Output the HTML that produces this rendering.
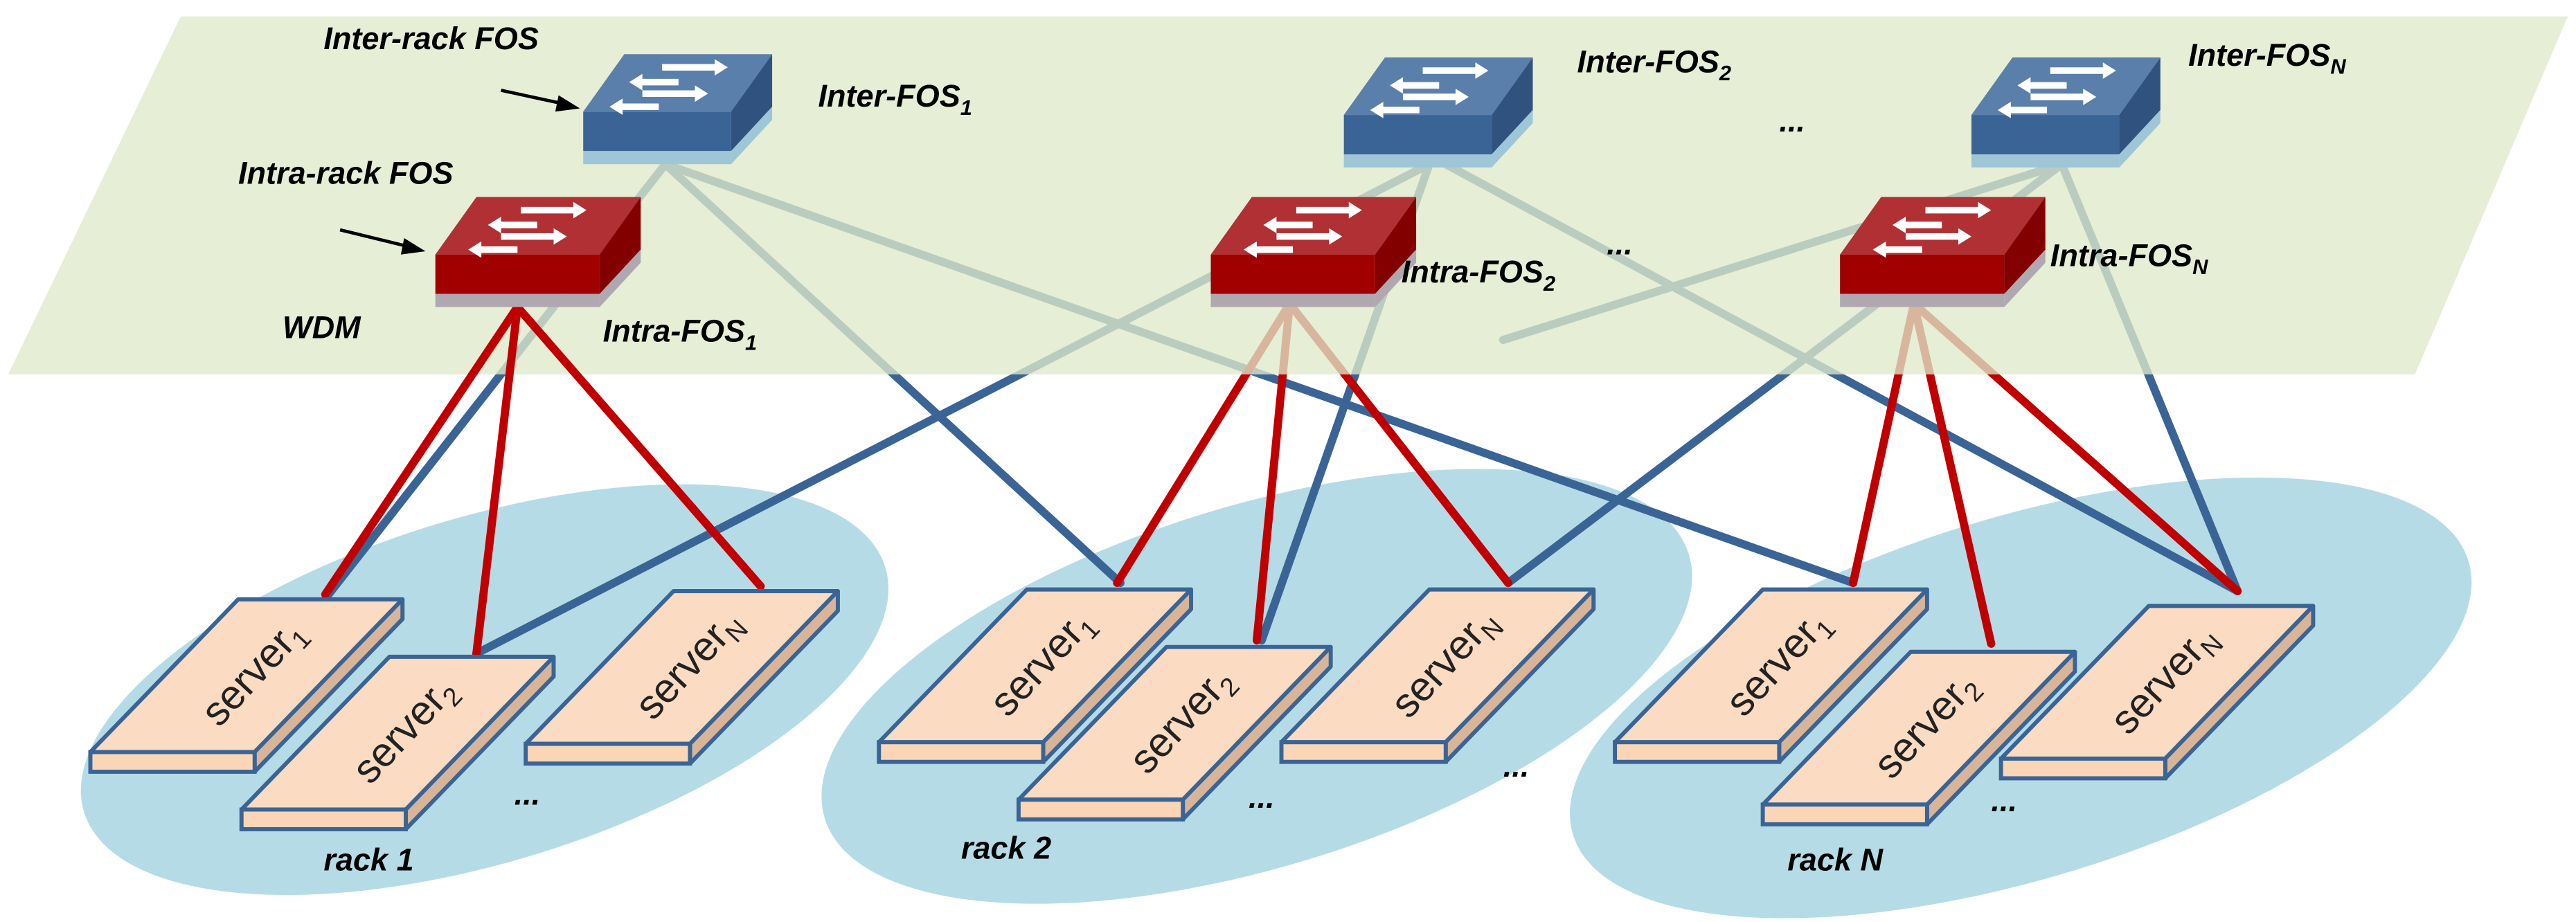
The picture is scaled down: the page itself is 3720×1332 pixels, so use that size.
<!DOCTYPE html>
<html><head><meta charset="utf-8"><style>
html,body{margin:0;padding:0;background:#fff;width:3720px;height:1332px;overflow:hidden;}
svg{display:block;position:absolute;left:0;top:0;}
text{font-family:"Liberation Sans",sans-serif;}
.lb{font-weight:bold;font-style:italic;font-size:19px;fill:#000;}
.sv{font-size:25px;fill:#222;}
</style></head><body>
<svg width="3720" height="1332" viewBox="0 0 1568 561.5" preserveAspectRatio="none" xmlns="http://www.w3.org/2000/svg">
<defs>
  <g id="arrows">
    <path d="M48 6 L80 6 L80 3 L88 8 L80 13 L80 10 L48 10 Z" fill="#fff"/>
    <path d="M36 15 L58 15 L58 19 L36 19 L36 22 L28 17 L36 12 Z" fill="#fff"/>
    <path d="M36 22 L68 22 L68 19 L76 24 L68 29 L68 26 L36 26 Z" fill="#fff"/>
    <path d="M24 30 L46 30 L46 34 L24 34 L24 37 L16 32 L24 27 Z" fill="#fff"/>
  </g>
  <g id="bsw">
    <polygon points="25,0 115,0 90,35 0,35" fill="#5b7fab"/>
    <rect x="0" y="35" width="90" height="24" fill="#3a6495"/>
    <rect x="0" y="59" width="90" height="8" fill="#9fc6d6"/>
    <polygon points="90,35 115,0 115,32 90,59" fill="#2f527f"/>
    <polygon points="90,59 115,32 115,40 90,67" fill="#9fc6d6"/>
    <use href="#arrows"/>
  </g>
  <g id="rsw">
    <polygon points="25,0 125,0 100,35 0,35" fill="#b03034"/>
    <rect x="0" y="35" width="100" height="24" fill="#a00000"/>
    <rect x="0" y="59" width="100" height="8" fill="#b0a8b0"/>
    <polygon points="100,35 125,0 125,32 100,59" fill="#820000"/>
    <polygon points="100,59 125,32 125,40 100,67" fill="#b0a8b0"/>
    <use href="#arrows" transform="translate(4,0)"/>
  </g>
  <g id="srv">
    <polygon points="0,0 100,0 190,-93 90,-93" fill="#fbdcc2" stroke="#3a6495" stroke-width="2.5" stroke-linejoin="round"/>
    <polygon points="100,0 190,-93 190,-81 100,12" fill="#d8b598" stroke="#3a6495" stroke-width="2.5" stroke-linejoin="round"/>
    <rect x="0" y="0" width="100" height="12" fill="#fbd6b6" stroke="#3a6495" stroke-width="2.5"/>
  </g>
</defs>

<ellipse cx="295" cy="420" rx="255" ry="105" transform="rotate(-17 295 420)" fill="#b5dce6"/>
<ellipse cx="765" cy="418" rx="275" ry="110" transform="rotate(-17 765 418)" fill="#b5dce6"/>
<ellipse cx="1230" cy="425" rx="285" ry="110" transform="rotate(-17 1230 425)" fill="#b5dce6"/>

<g stroke-width="5" stroke-linecap="round" fill="none">
  <line x1="405" y1="100" x2="200" y2="362" stroke="#3a6495"/>
  <line x1="405" y1="100" x2="682" y2="355" stroke="#3a6495"/>
  <line x1="405" y1="100" x2="1128" y2="355" stroke="#3a6495"/>
  <line x1="870" y1="100" x2="290" y2="398" stroke="#3a6495"/>
  <line x1="870" y1="100" x2="768" y2="390" stroke="#3a6495"/>
  <line x1="880" y1="100" x2="1362" y2="360" stroke="#3a6495"/>
  <line x1="1255" y1="100" x2="918" y2="355" stroke="#3a6495"/>
  <line x1="1255" y1="100" x2="1362" y2="360" stroke="#3a6495"/>
  <line x1="1255" y1="100" x2="915" y2="207" stroke="#3a6495"/>
  <line x1="785" y1="185" x2="680" y2="355" stroke="#c00000"/>
  <line x1="785" y1="185" x2="765" y2="390" stroke="#c00000"/>
  <line x1="785" y1="185" x2="918" y2="355" stroke="#c00000"/>
  <line x1="1165" y1="185" x2="1128" y2="355" stroke="#c00000"/>
  <line x1="1165" y1="185" x2="1212" y2="392" stroke="#c00000"/>
  <line x1="1165" y1="185" x2="1362" y2="360" stroke="#c00000"/>
</g>

<polygon points="5,228 110,10 1563,10 1470,228" fill="#dfe9cb" opacity="0.78"/>

<g stroke="#c00000" stroke-width="5" stroke-linecap="round">
  <line x1="315" y1="187" x2="198" y2="362"/>
  <line x1="315" y1="187" x2="290" y2="398"/>
  <line x1="315" y1="187" x2="463" y2="357"/>
</g>

<use href="#bsw" x="355" y="33"/>
<use href="#bsw" x="818" y="35"/>
<use href="#bsw" x="1200" y="35"/>
<use href="#rsw" x="265" y="120"/>
<use href="#rsw" x="737" y="120"/>
<use href="#rsw" x="1120" y="120"/>

<text class="lb" x="197" y="30">Inter-rack FOS</text>
<line x1="305" y1="55" x2="342" y2="63" stroke="#000" stroke-width="2"/>
<polygon points="353,66 340,58 338,68" fill="#000"/>
<text class="lb" x="145" y="112">Intra-rack FOS</text>
<line x1="207" y1="140" x2="248" y2="150" stroke="#000" stroke-width="2"/>
<polygon points="259,153 246,145 244,155" fill="#000"/>
<text class="lb" x="498" y="65">Inter-FOS<tspan font-size="13" dy="5">1</tspan></text>
<text class="lb" x="960" y="44">Inter-FOS<tspan font-size="13" dy="5">2</tspan></text>
<text class="lb" x="1332" y="40">Inter-FOS<tspan font-size="13" dy="5">N</tspan></text>
<text class="lb" x="367" y="208">Intra-FOS<tspan font-size="13" dy="5">1</tspan></text>
<text class="lb" x="853" y="172">Intra-FOS<tspan font-size="13" dy="5">2</tspan></text>
<text class="lb" x="1248" y="162">Intra-FOS<tspan font-size="13" dy="5">N</tspan></text>
<text class="lb" x="172" y="206">WDM</text>
<text class="lb" x="1083" y="80">...</text>
<text class="lb" x="978" y="155">...</text>

<use href="#srv" x="55" y="458"/>
<use href="#srv" x="147" y="493"/>
<use href="#srv" x="320" y="453"/>
<use href="#srv" x="535" y="452"/>
<use href="#srv" x="620" y="487"/>
<use href="#srv" x="780" y="452"/>
<use href="#srv" x="983" y="452"/>
<use href="#srv" x="1073" y="490"/>
<use href="#srv" x="1218" y="462"/>

<g class="sv">
  <text transform="translate(160,415) rotate(-47)" text-anchor="middle">server<tspan font-size="16" dy="5">1</tspan></text>
  <text transform="translate(252,450) rotate(-47)" text-anchor="middle">server<tspan font-size="16" dy="5">2</tspan></text>
  <text transform="translate(425,410) rotate(-47)" text-anchor="middle">server<tspan font-size="16" dy="5">N</tspan></text>
  <text transform="translate(640,409) rotate(-47)" text-anchor="middle">server<tspan font-size="16" dy="5">1</tspan></text>
  <text transform="translate(725,444) rotate(-47)" text-anchor="middle">server<tspan font-size="16" dy="5">2</tspan></text>
  <text transform="translate(885,409) rotate(-47)" text-anchor="middle">server<tspan font-size="16" dy="5">N</tspan></text>
  <text transform="translate(1088,409) rotate(-47)" text-anchor="middle">server<tspan font-size="16" dy="5">1</tspan></text>
  <text transform="translate(1178,447) rotate(-47)" text-anchor="middle">server<tspan font-size="16" dy="5">2</tspan></text>
  <text transform="translate(1323,419) rotate(-47)" text-anchor="middle">server<tspan font-size="16" dy="5">N</tspan></text>
</g>

<text class="lb" x="197" y="530">rack 1</text>
<text class="lb" x="585" y="523">rack 2</text>
<text class="lb" x="1088" y="530">rack N</text>
<text class="lb" x="313" y="490" font-size="20">...</text>
<text class="lb" x="760" y="492" font-size="20">...</text>
<text class="lb" x="915" y="473" font-size="28">...</text>
<text class="lb" x="1212" y="494" font-size="20">...</text>
</svg>
</body></html>
